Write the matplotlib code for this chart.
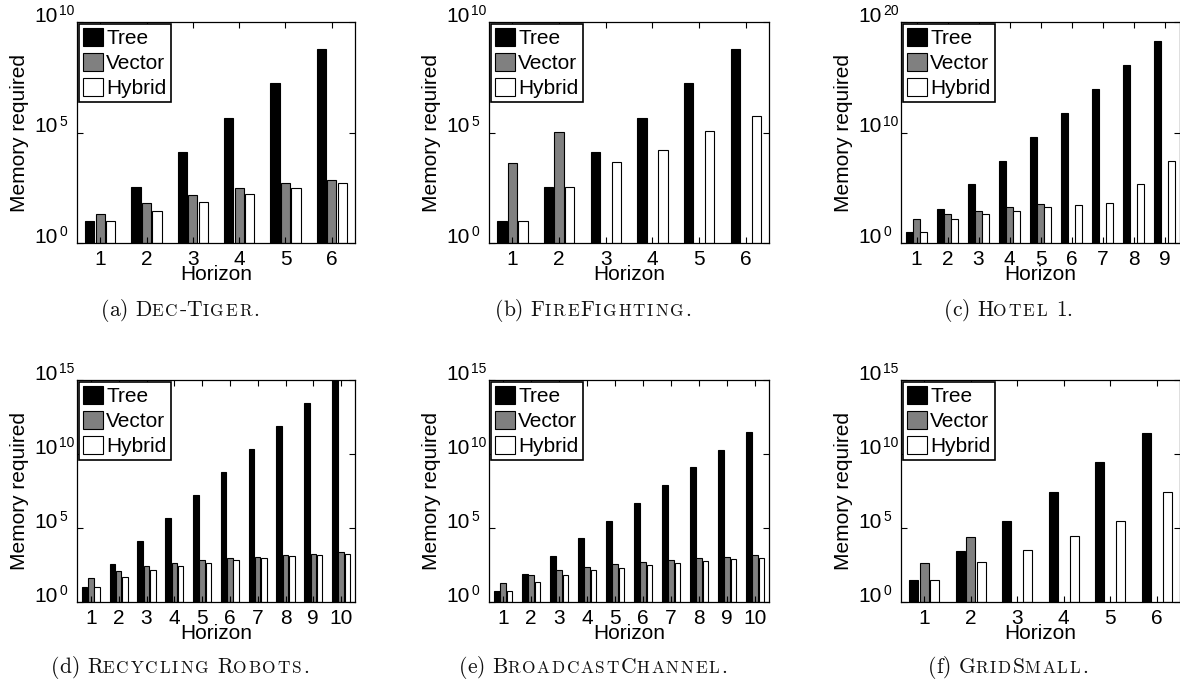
import matplotlib
matplotlib.use('Agg')
import matplotlib.pyplot as plt
import matplotlib.transforms as mtransforms
from matplotlib import font_manager, ft2font
import numpy as np

plt.rcParams['font.family'] = ['Liberation Sans', 'DejaVu Sans']

nan = np.nan
series_names = ['Tree', 'Vector', 'Hybrid']

# (a) Dec-Tiger
tree_a = [9.3, 340, 1.26e4, 4.7e5, 1.66e7, 6.2e8]
vector_a = [18.6, 62, 148, 295, 500, 708]
hybrid_a = [9.3, 28, 74, 158, 295, 500]
# (b) FireFighting
tree_b = [9.3, 340, 1.26e4, 4.7e5, 1.66e7, 6.2e8]
vector_b = [4.0e3, 1.02e5, nan, nan, nan, nan]
hybrid_b = [9.3, 340, 4.5e3, 1.6e4, 1.17e5, 5.6e5]
# (c) Hotel 1
tree_c = [8.7, 1.29e3, 2.0e5, 2.8e7, 4.2e9, 5.8e11, 8.7e13, 1.2e16, 1.8e18]
vector_c = [138, 417, 851, 1.7e3, 3.2e3, nan, nan, nan, nan]
hybrid_c = [8.7, 148, 417, 851, 1.7e3, 2.95e3, 4.5e3, 2.0e5, 2.8e7]
# (d) Recycling Robots
tree_d = [10, 363, 1.3e4, 4.7e5, 1.66e7, 5.9e8, 2.1e10, 7.4e11, 2.8e13, 1.0e15]
vector_d = [40, 129, 257, 407, 646, 891, 1.15e3, 1.41e3, 1.82e3, 2.34e3]
hybrid_d = [10, 51, 145, 269, 427, 646, 891, 1.2e3, 1.48e3, 1.82e3]
# (e) BroadcastChannel
tree_e = [4.3, 78, 1.2e3, 2.0e4, 3.1e5, 5.0e6, 7.8e7, 1.29e9, 2.0e10, 3.1e11]
vector_e = [17.4, 63, 145, 229, 347, 525, 676, 891, 1.1e3, 1.41e3]
hybrid_e = [4.3, 22, 66, 145, 209, 295, 447, 589, 759, 977]
# (f) GridSmall
tree_f = [27.5, 2.75e3, 2.75e5, 2.75e7, 2.75e9, 2.6e11]
vector_f = [447, 2.4e4, nan, nan, nan, nan]
hybrid_f = [27.5, 479, 3.2e3, 2.7e4, 2.9e5, 2.6e7]

ytick_exps_a = [0, 5, 10]
ytick_exps_c = [0, 10, 20]
ytick_exps_d = [0, 5, 10, 15]

captions = [('(a)', 'Dec-Tiger.'), ('(b)', 'FireFighting.'), ('(c)', 'Hotel 1.'),
            ('(d)', 'Recycling Robots.'), ('(e)', 'BroadcastChannel.'), ('(f)', 'GridSmall.')]

W, H = 1180, 687
fig = plt.figure(figsize=(W / 100, H / 100), dpi=100)

colors = ['black', '#808080', 'white']
offsets = [-0.225, 0.0, 0.225]
bar_w = 0.2

cols = [(77, 355), (489, 769), (901, 1180)]
rows = [(22, 243), (380, 602)]
cap_cx = [180, 593, 1008]
cap_base = [316, 673]

panels = [
    ((tree_a, vector_a, hybrid_a), ytick_exps_a),
    ((tree_b, vector_b, hybrid_b), ytick_exps_a),
    ((tree_c, vector_c, hybrid_c), ytick_exps_c),
    ((tree_d, vector_d, hybrid_d), ytick_exps_d),
    ((tree_e, vector_e, hybrid_e), ytick_exps_d),
    ((tree_f, vector_f, hybrid_f), ytick_exps_d),
]


def add_axes_px(l, t, r, b):
    return fig.add_axes([l / W, 1 - b / H, (r - l) / W, (b - t) / H])


for i, (series, yexps) in enumerate(panels):
    row, col = divmod(i, 3)
    l, r = cols[col]
    t, b = rows[row]
    ax = add_axes_px(l, t, r, b)
    ax.set_yscale('log')
    n = len(series[0])
    horizons = np.arange(1, n + 1)
    for vals, c, off, name in zip(series, colors, offsets, series_names):
        vals = np.asarray(vals, dtype=float)
        ok = ~np.isnan(vals)
        ax.bar(horizons[ok] + off, vals[ok], width=bar_w, color=c,
               edgecolor='black', linewidth=0.8, label=name, bottom=1)
    ax.set_xlim(0.5, n + 0.5)
    ax.set_ylim(1, 10.0 ** yexps[-1])
    ax.set_xticks(horizons)
    ax.set_xticklabels([str(h) for h in horizons])
    ax.set_yticks([10.0 ** e for e in yexps])
    ax.yaxis.set_minor_locator(matplotlib.ticker.NullLocator())
    ax.tick_params(direction='in', top=True, right=True, length=4, width=0.8,
                   labelsize=15)
    ax.tick_params(axis='x', pad=5)
    ax.tick_params(axis='y', labelleft=False)
    # MATLAB-style y tick labels: base "10" aligned, exponent hanging right
    base_tr = mtransforms.offset_copy(ax.get_yaxis_transform(), fig=fig,
                                      x=-19, y=0, units='dots')
    exp_tr = mtransforms.offset_copy(ax.get_yaxis_transform(), fig=fig,
                                     x=-18, y=7, units='dots')
    for e in yexps:
        ax.text(0, 10.0 ** e, '10', transform=base_tr, ha='right', va='baseline',
                fontsize=15, clip_on=False)
        ax.text(0, 10.0 ** e, str(e), transform=exp_tr, ha='left', va='baseline',
                fontsize=10, clip_on=False)
    for sp in ax.spines.values():
        sp.set_linewidth(0.9)
    ax.set_xlabel('Horizon', fontsize=15)
    ax.xaxis.set_label_coords(0.5, 0, transform=mtransforms.offset_copy(
        ax.transAxes, fig=fig, x=0, y=-22, units='dots'))
    ax.set_ylabel('Memory required', fontsize=15)
    ax.yaxis.set_label_coords(0, 0.5, transform=mtransforms.offset_copy(
        ax.transAxes, fig=fig, x=-48, y=0, units='dots'))
    leg = ax.legend(loc='upper left', fontsize=15, handlelength=0.96, handleheight=0.9,
                    handletextpad=0.15, borderpad=0.2, labelspacing=0.25,
                    borderaxespad=0.1, fancybox=False, framealpha=1)
    leg.get_frame().set_edgecolor('black')
    leg.get_frame().set_linewidth(1.2)

# captions in emulated small caps (Computer Modern)
CAP_SIZE = 15.5
SMALL = 0.8
TRACK = 1.8  # extra px after each small-cap letter
cm_path = font_manager.findfont(font_manager.FontProperties(family='cmr10'))
cm_font = ft2font.FT2Font(cm_path)


def advance(ch, size):
    cm_font.set_size(size, 100)
    g = cm_font.load_char(ord(ch))
    return g.linearHoriAdvance / 65536.0


def make_glyphs(prefix, name):
    out = [(ch, CAP_SIZE, False) for ch in prefix] + [(' ', CAP_SIZE, False)]
    for ch in name:
        if ch.islower():
            out.append((ch.upper(), CAP_SIZE * SMALL, True))
        else:
            out.append((ch, CAP_SIZE, False))
    return out


for i, (prefix, name) in enumerate(captions):
    row, col = divmod(i, 3)
    glyphs = make_glyphs(prefix, name)
    advs = []
    for ch, size, small in glyphs:
        if ch == ' ':
            a = 0.333 * size * 100 / 72
        else:
            a = advance(ch, size)
        if small:
            a += TRACK
        advs.append(a)
    total = sum(advs)
    x = cap_cx[col] - total / 2
    for (ch, size, small), a in zip(glyphs, advs):
        if ch != ' ':
            fig.text(x / W, 1 - cap_base[row] / H, ch, fontsize=size, family='cmr10',
                     va='baseline', ha='left', color='#111111')
        x += a

fig.savefig('out.png', dpi=100)
